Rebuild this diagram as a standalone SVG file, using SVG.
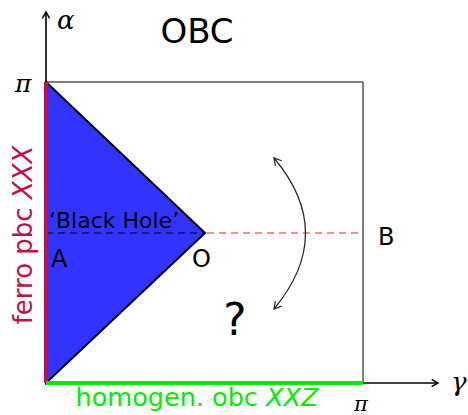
<svg xmlns="http://www.w3.org/2000/svg" width="468" height="415" viewBox="0 0 468 415">
<style>
.t{font-family:"DejaVu Sans",sans-serif;fill:#000}
.m{font-family:"DejaVu Serif","Liberation Serif",serif;font-style:italic;fill:#000}
.ax{stroke:#000;stroke-width:1.6;fill:none}
.thin{stroke:#000;stroke-width:1;fill:none}
</style>
<defs>
<marker id="ah" viewBox="0 0 10 10" refX="8" refY="5" markerWidth="9" markerHeight="9" markerUnits="userSpaceOnUse" orient="auto-start-reverse">
<path d="M1,1 L8,5 L1,9" fill="none" stroke="#000" stroke-width="1.6"/>
</marker>
<marker id="ah2" viewBox="0 0 10 10" refX="8" refY="5" markerWidth="10" markerHeight="10" markerUnits="userSpaceOnUse" orient="auto-start-reverse">
<path d="M1,1 L8,5 L1,9" fill="none" stroke="#222" stroke-width="1.2"/>
</marker>
</defs>
<g id="box">
<polyline class="thin" points="46,82 363,82 363,383"/>
</g>
<g id="blackhole">
<polygon points="46,82 205,233 46,383" fill="#3333ff" stroke="#000" stroke-width="2"/>
</g>
<g id="connectors">
<line x1="46" y1="383" x2="46" y2="12" class="ax" marker-end="url(#ah)"/>
<line x1="46" y1="383" x2="438" y2="383" class="ax" marker-end="url(#ah)"/>
<line x1="46" y1="233" x2="205" y2="233" stroke="#000" stroke-width="1" stroke-dasharray="7,5"/>
<line x1="207" y1="233" x2="363" y2="233" stroke="#ff6666" stroke-width="1.3" stroke-dasharray="7,5"/>
<path d="M274,158 Q337,233 274,309" fill="none" stroke="#222" stroke-width="1.2" marker-start="url(#ah2)" marker-end="url(#ah2)"/>
<line x1="46" y1="82" x2="46" y2="383" stroke="#c0104a" stroke-width="4"/>
<line x1="46" y1="383" x2="363" y2="383" stroke="#00ee00" stroke-width="4"/>
</g>
<g id="labels">
<text class="m" x="57" y="29" font-size="26">α</text>
<text class="t" x="197" y="43" font-size="34" text-anchor="middle">OBC</text>
<text class="m" x="15" y="92" font-size="25">π</text>
<text class="m" x="354" y="411" font-size="21">π</text>
<text class="m" x="451" y="391" font-size="26">γ</text>
<text class="t" x="378" y="245" font-size="24">B</text>
<text class="t" x="51" y="267" font-size="24">A</text>
<text class="t" x="192" y="267" font-size="24">O</text>
<text class="t" x="235" y="335" font-size="44" text-anchor="middle">?</text>
<text class="t" x="49" y="228" font-size="22">‘Black Hole’</text>
<text class="t" x="32" y="235" font-size="26" text-anchor="middle" transform="rotate(-90 32 235)" style="fill:#c0104a">ferro pbc <tspan font-style="italic">XXX</tspan></text>
<text class="t" x="197" y="406" font-size="25.5" text-anchor="middle" style="fill:#00ee00">homogen. obc <tspan font-style="italic">XXZ</tspan></text>
</g>
</svg>
